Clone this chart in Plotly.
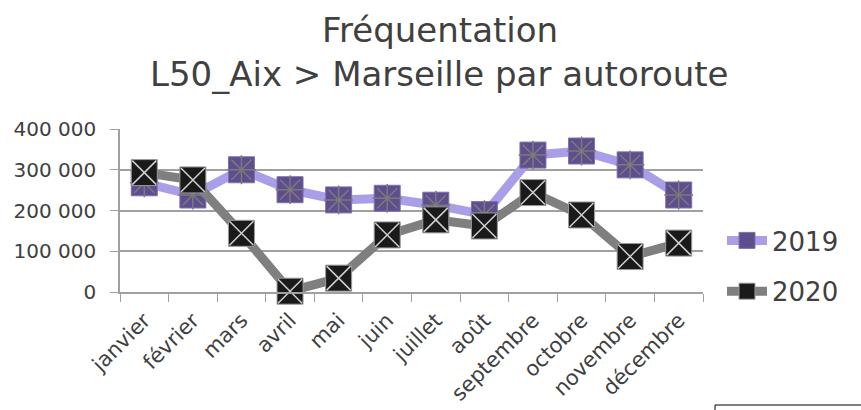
import plotly.graph_objects as go

months = ["janvier", "février", "mars", "avril", "mai", "juin", "juillet",
          "août", "septembre", "octobre", "novembre", "décembre"]
v2019 = [268000, 238000, 300000, 251000, 226000, 230000, 213000,
         190000, 336000, 346000, 312000, 238000]
v2020 = [293000, 275000, 144000, 2000, 34000, 140000, 177000,
         162000, 244000, 189000, 87000, 120000]
title_lines = ["Fréquentation", "L50_Aix > Marseille par autoroute"]
y_ticks = [0, 100000, 200000, 300000, 400000]

FONT = "DejaVu Sans"
TXT = "#404040"
fig = go.Figure()

# 2019
fig.add_trace(go.Scatter(
    x=months, y=v2019, name="2019", mode="lines+markers", legendgroup="a",
    line=dict(color="#A99EE8", width=9),
    marker=dict(symbol="square", size=26, color="#5E4E8E",
                line=dict(color="#8070B0", width=1)),
    cliponaxis=False))
fig.add_trace(go.Scatter(
    x=months, y=v2019, mode="markers", showlegend=False, hoverinfo="skip",
    marker=dict(symbol="asterisk-open", size=24, color="#7A7A7A",
                line=dict(color="#7A7A7A", width=1.5)),
    cliponaxis=False))
# 2020
fig.add_trace(go.Scatter(
    x=months, y=v2020, name="2020", mode="lines+markers", legendgroup="b",
    line=dict(color="#7F7F7F", width=9),
    marker=dict(symbol="square", size=26, color="#1A1A1A",
                line=dict(color="#9A9A9A", width=1)),
    cliponaxis=False))
fig.add_trace(go.Scatter(
    x=months, y=v2020, mode="markers", showlegend=False, hoverinfo="skip",
    marker=dict(symbol="x-thin-open", size=24, color="#D0D0D0",
                line=dict(color="#D0D0D0", width=1.5)),
    cliponaxis=False))

annotations = [
    dict(text=title_lines[0], x=(440 - 120) / 583, y=(292 - 30) / 163,
         xref="paper", yref="paper", xanchor="center", yanchor="middle",
         showarrow=False, font=dict(family=FONT, size=34, color=TXT)),
    dict(text=title_lines[1], x=(439 - 120) / 583, y=(292 - 74) / 163,
         xref="paper", yref="paper", xanchor="center", yanchor="middle",
         showarrow=False, font=dict(family=FONT, size=34, color=TXT)),
]

fig.update_layout(
    width=861, height=410,
    margin=dict(l=120, r=158, t=129, b=118, autoexpand=False),
    paper_bgcolor="white", plot_bgcolor="white",
    separators=", ",
    font=dict(family=FONT, color=TXT),
    annotations=annotations,
    legend=dict(x=(722 - 120) / 583, y=(292 - 266) / 163,
                xanchor="left", yanchor="middle",
                font=dict(size=26, color=TXT),
                tracegroupgap=14, itemwidth=40),
    showlegend=True,
)
fig.update_xaxes(
    range=[-0.5, 11.5], tickangle=-45, tickson="boundaries",
    ticks="outside", ticklen=8, tickcolor="#A0A0A0",
    showline=True, linecolor="#A0A0A0", linewidth=1.5, showgrid=False,
    ticklabelstandoff=6,
    tickfont=dict(size=21, color=TXT))
fig.update_yaxes(
    range=[0, 400000], tickvals=y_ticks, tickformat=",d",
    ticks="outside", ticklen=8, tickcolor="#A0A0A0",
    showline=True, linecolor="#A0A0A0", linewidth=1.5,
    showgrid=True, gridcolor="#A0A0A0", gridwidth=1.5, zeroline=False,
    ticklabelstandoff=10,
    tickfont=dict(size=20, color=TXT))

fig.add_shape(type="rect", xref="paper", yref="paper",
              x0=(715 - 120) / 583, x1=(865 - 120) / 583,
              y0=(292 - 405) / 163, y1=(292 - 415) / 163,
              line=dict(color="#000000", width=1), fillcolor="white")

fig.write_html("out.html", config={"displayModeBar": False},
               post_script="document.body.style.margin='0';")
